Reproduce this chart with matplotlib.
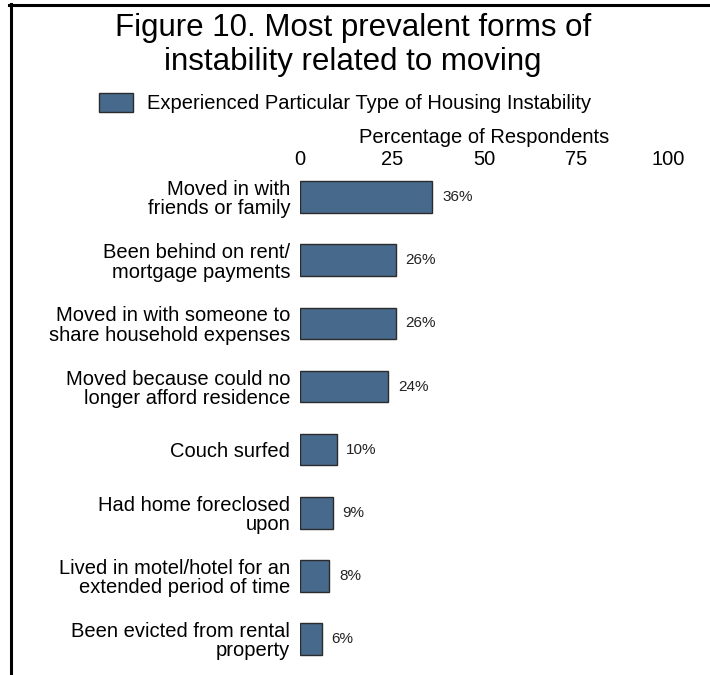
import matplotlib
matplotlib.use("Agg")
import matplotlib.pyplot as plt
from matplotlib.patches import Patch
from matplotlib.lines import Line2D

# Housing instability items and share of respondents (%)
categories = [
    "Moved in with\nfriends or family",
    "Been behind on rent/\nmortgage payments",
    "Moved in with someone to\nshare household expenses",
    "Moved because could no\nlonger afford residence",
    "Couch surfed",
    "Had home foreclosed\nupon",
    "Lived in motel/hotel for an\nextended period of time",
    "Been evicted from rental\nproperty",
]
values = [36, 26, 26, 24, 10, 9, 8, 6]
x_ticks = [0, 25, 50, 75, 100]

bar_color = "#476a8c"
edge_color = "#2b2b2b"
font = ["Liberation Sans", "DejaVu Sans"]

fig = plt.figure(figsize=(7.1, 6.75), dpi=100)
ax = fig.add_axes([300 / 710, 5 / 675, 368 / 710, 500 / 675])

pos = list(range(len(categories)))
ax.barh(pos, values, height=0.5, color=bar_color, edgecolor=edge_color,
        linewidth=1.0)
for p, v in zip(pos, values):
    ax.text(v + 2.6, p, f"{v}%", va="center", ha="left", fontsize=11,
            family=font, color="#222222")

ax.set_xlim(0, 100)
ax.set_ylim(7.49, -0.43)
ax.xaxis.tick_top()
ax.xaxis.set_label_position("top")
ax.set_xticks(x_ticks)
ax.set_xticklabels([str(t) for t in x_ticks], family=font, fontsize=14.5)
ax.set_xlabel("Percentage of Respondents", family=font, fontsize=14.5,
              labelpad=5)
ax.set_yticks(pos)
ax.set_yticklabels(categories, family=font, fontsize=14.5,
                   linespacing=1.02)
ax.tick_params(axis="x", length=0, pad=1)
ax.tick_params(axis="y", length=0, pad=7)
for s in ax.spines.values():
    s.set_visible(False)

fig.text(0.497, 1 - 28 / 675, "Figure 10. Most prevalent forms of",
         ha="center", va="center", fontsize=22.5, family=font)
fig.text(0.497, 1 - 62 / 675, "instability related to moving",
         ha="center", va="center", fontsize=22.5, family=font)

handle = Patch(facecolor=bar_color, edgecolor=edge_color, linewidth=1.0)
fig.legend([handle], ["Experienced Particular Type of Housing Instability"],
           loc="center left", bbox_to_anchor=(99 / 710, 1 - 103 / 675),
           frameon=False, prop={"family": font, "size": 14.5},
           borderpad=0, borderaxespad=0,
           handlelength=1.7, handleheight=1.1, handletextpad=0.7)

# frame lines along the top and left of the figure
fig.add_artist(Line2D([9 / 710, 1], [1 - 5 / 675, 1 - 5 / 675],
                      transform=fig.transFigure, color="black", linewidth=2.2))
fig.add_artist(Line2D([10.5 / 710, 10.5 / 710], [1 - 4 / 675, 0],
                      transform=fig.transFigure, color="black", linewidth=2.2))

fig.savefig("out.png", dpi=100)
